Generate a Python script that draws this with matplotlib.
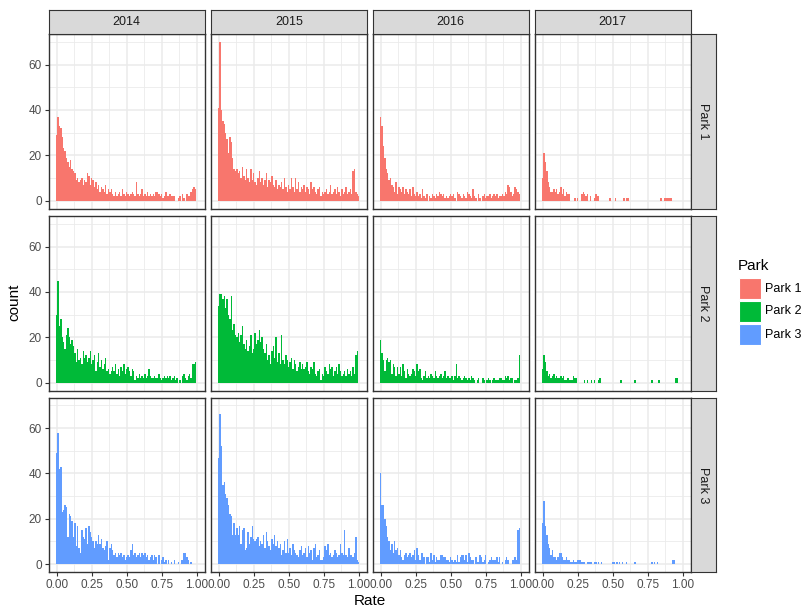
import matplotlib.pyplot as plt
import matplotlib.patches as mpatches
import numpy as np

plt.rcParams['font.family'] = ['Liberation Sans', 'DejaVu Sans']

years = ["2014", "2015", "2016", "2017"]
parks = ["Park 1", "Park 2", "Park 3"]
park_colors = ["#F8766D", "#00BA38", "#619CFF"]

# counts per 0.01-wide bin, bins centred on 0.00, 0.01, ..., 1.00
p1_2014 = [29, 37, 33, 32, 28, 23, 22, 19, 17, 15,
           18, 14, 13, 12, 9, 10, 8, 9, 10, 7,
           9, 8, 12, 11, 7, 10, 9, 6, 8, 5,
           7, 4, 6, 5, 4, 7, 3, 5, 4, 5,
           3, 2, 4, 2, 3, 4, 2, 5, 3, 2,
           4, 3, 2, 3, 4, 3, 2, 8, 3, 2,
           3, 5, 2, 3, 2, 4, 2, 3, 2, 3,
           2, 4, 4, 3, 2, 3, 1, 2, 4, 2,
           2, 3, 2, 2, 2, 0, 0, 1, 2, 0,
           3, 1, 0, 3, 2, 2, 4, 5, 6, 5,
           0]
p1_2015 = [41, 70, 40, 35, 34, 30, 27, 21, 28, 26,
           19, 14, 13, 14, 12, 13, 10, 15, 11, 9,
           14, 10, 8, 14, 9, 12, 8, 7, 10, 13,
           8, 10, 7, 9, 12, 6, 9, 8, 11, 7,
           6, 9, 5, 7, 6, 8, 5, 10, 6, 4,
           7, 5, 10, 6, 4, 10, 5, 8, 4, 6,
           5, 7, 4, 6, 5, 3, 8, 5, 6, 4,
           3, 5, 6, 2, 4, 3, 4, 5, 3, 4,
           7, 3, 4, 5, 3, 6, 4, 2, 5, 3,
           4, 6, 3, 4, 5, 3, 13, 14, 4, 3,
           2]
p1_2016 = [37, 33, 24, 19, 14, 12, 9, 10, 7, 6,
           4, 8, 3, 6, 5, 4, 6, 3, 5, 4,
           3, 5, 2, 6, 3, 2, 4, 2, 3, 1,
           5, 2, 1, 3, 0, 2, 1, 3, 2, 1,
           3, 2, 4, 3, 2, 3, 1, 2, 1, 2,
           3, 2, 3, 1, 0, 4, 3, 2, 1, 3,
           2, 1, 4, 3, 2, 1, 5, 2, 1, 0,
           3, 1, 0, 2, 3, 1, 2, 2, 3, 1,
           2, 3, 2, 3, 1, 2, 2, 3, 2, 4,
           3, 7, 6, 4, 2, 3, 6, 5, 4, 3,
           0]
p1_2017 = [10, 21, 17, 13, 8, 6, 4, 4, 5, 4,
           5, 3, 4, 6, 3, 5, 2, 4, 3, 3,
           0, 0, 0, 1, 0, 1, 0, 0, 3, 4,
           3, 2, 3, 0, 2, 0, 0, 1, 3, 2,
           2, 0, 0, 0, 0, 0, 0, 0, 1, 0,
           0, 0, 1, 0, 0, 0, 0, 0, 1, 0,
           1, 1, 0, 0, 0, 0, 0, 0, 0, 0,
           0, 0, 0, 0, 0, 0, 0, 0, 0, 0,
           0, 0, 0, 0, 1, 1, 0, 1, 1, 1,
           1, 1, 1, 0, 0, 0, 0, 0, 0, 0,
           0]
p2_2014 = [30, 45, 25, 28, 20, 18, 15, 21, 24, 20,
           17, 19, 16, 13, 9, 15, 10, 11, 8, 14,
           11, 12, 9, 11, 14, 8, 10, 12, 5, 9,
           13, 7, 10, 6, 8, 11, 5, 6, 4, 5,
           7, 5, 8, 4, 6, 3, 7, 5, 8, 4,
           6, 7, 5, 3, 6, 5, 1, 3, 2, 4,
           2, 3, 2, 4, 2, 3, 6, 3, 2, 2,
           3, 2, 2, 4, 2, 1, 2, 3, 2, 3,
           2, 3, 1, 2, 3, 1, 2, 0, 1, 0,
           3, 4, 2, 1, 3, 4, 2, 8, 8, 9,
           0]
p2_2015 = [34, 39, 39, 37, 38, 33, 37, 30, 28, 38,
           23, 26, 21, 20, 22, 18, 21, 25, 17, 15,
           19, 14, 16, 21, 13, 15, 22, 17, 19, 23,
           18, 20, 15, 13, 17, 10, 12, 8, 14, 16,
           11, 20, 9, 13, 8, 21, 10, 8, 12, 10,
           7, 9, 11, 6, 10, 8, 5, 7, 9, 6,
           8, 6, 7, 9, 5, 4, 7, 6, 9, 4,
           3, 5, 6, 1, 4, 3, 7, 5, 4, 8,
           6, 7, 3, 5, 7, 4, 8, 5, 3, 4,
           5, 3, 6, 4, 5, 3, 7, 4, 12, 14,
           0]
p2_2016 = [19, 13, 10, 5, 10, 11, 9, 10, 4, 8,
           7, 3, 7, 4, 7, 3, 8, 5, 2, 6,
           4, 3, 4, 6, 5, 3, 8, 5, 6, 2,
           1, 3, 5, 2, 3, 2, 4, 3, 2, 5,
           3, 2, 3, 4, 2, 3, 5, 2, 3, 2,
           2, 3, 1, 3, 8, 2, 3, 2, 1, 2,
           3, 2, 1, 2, 1, 3, 2, 1, 0, 1,
           2, 0, 0, 2, 1, 0, 1, 2, 1, 0,
           1, 2, 1, 1, 1, 2, 2, 1, 1, 3,
           2, 3, 1, 2, 2, 0, 1, 1, 2, 12,
           0]
p2_2017 = [6, 12, 9, 5, 3, 4, 2, 3, 4, 2,
           3, 2, 2, 3, 2, 3, 1, 1, 2, 1,
           1, 1, 3, 2, 2, 0, 0, 0, 0, 0,
           1, 0, 1, 0, 0, 1, 0, 1, 0, 0,
           1, 2, 0, 0, 0, 0, 0, 0, 0, 0,
           0, 0, 0, 0, 0, 0, 1, 0, 0, 0,
           0, 0, 0, 0, 0, 0, 1, 0, 0, 0,
           0, 0, 0, 0, 0, 0, 0, 0, 1, 0,
           0, 0, 0, 1, 0, 0, 0, 0, 0, 0,
           0, 0, 0, 0, 0, 2, 2, 0, 0, 0,
           0]
p3_2014 = [49, 58, 42, 43, 23, 24, 26, 25, 12, 22,
           21, 19, 12, 18, 8, 17, 7, 5, 15, 12,
           11, 16, 9, 17, 14, 12, 10, 7, 10, 9,
           13, 9, 11, 7, 6, 8, 10, 2, 7, 9,
           6, 4, 5, 3, 5, 4, 5, 3, 4, 2,
           3, 4, 3, 6, 9, 4, 5, 3, 4, 5,
           3, 5, 4, 5, 3, 4, 2, 3, 4, 2,
           4, 3, 0, 4, 0, 2, 3, 1, 2, 0,
           2, 0, 1, 0, 2, 0, 0, 1, 0, 2,
           2, 5, 5, 3, 2, 0, 1, 0, 0, 0,
           0]
p3_2015 = [47, 66, 52, 35, 36, 31, 29, 26, 22, 21,
           13, 18, 13, 16, 13, 17, 9, 15, 16, 6,
           7, 14, 9, 12, 17, 11, 10, 11, 12, 8,
           10, 9, 13, 7, 14, 10, 8, 6, 11, 9,
           13, 8, 10, 7, 9, 4, 6, 10, 5, 11,
           5, 7, 4, 9, 6, 5, 4, 3, 6, 8,
           4, 5, 7, 3, 8, 5, 6, 2, 7, 9,
           3, 4, 6, 2, 2, 3, 8, 6, 9, 4,
           5, 3, 4, 6, 5, 3, 4, 9, 5, 4,
           15, 4, 3, 7, 4, 4, 3, 5, 12, 2,
           1]
p3_2016 = [40, 26, 26, 20, 17, 12, 10, 6, 9, 5,
           10, 6, 7, 4, 6, 3, 2, 4, 5, 3,
           4, 5, 3, 4, 6, 2, 7, 4, 2, 5,
           5, 3, 0, 3, 3, 1, 5, 2, 4, 1,
           3, 2, 2, 4, 4, 3, 3, 2, 2, 1,
           3, 2, 1, 2, 1, 4, 1, 3, 4, 4,
           2, 4, 1, 5, 3, 2, 2, 0, 3, 1,
           1, 4, 3, 1, 2, 4, 0, 1, 2, 3,
           2, 2, 2, 3, 1, 3, 0, 1, 0, 2,
           3, 2, 0, 0, 2, 2, 3, 2, 15, 16,
           0]
p3_2017 = [18, 28, 17, 13, 9, 7, 4, 6, 3, 3,
           2, 3, 5, 5, 3, 2, 2, 3, 2, 2,
           1, 1, 2, 1, 1, 2, 2, 2, 1, 1,
           1, 0, 1, 1, 1, 1, 0, 1, 1, 0,
           1, 0, 1, 0, 0, 0, 0, 0, 0, 0,
           1, 1, 0, 1, 0, 1, 0, 1, 0, 0,
           1, 0, 0, 0, 0, 0, 1, 0, 0, 0,
           0, 0, 0, 0, 0, 0, 0, 0, 1, 0,
           1, 0, 1, 0, 0, 0, 0, 0, 0, 0,
           0, 0, 0, 2, 2, 0, 0, 0, 0, 0,
           0]

counts = [[p1_2014, p1_2015, p1_2016, p1_2017],
          [p2_2014, p2_2015, p2_2016, p2_2017],
          [p3_2014, p3_2015, p3_2016, p3_2017]]

binwidth = 0.01
edges = np.arange(102) * binwidth - binwidth / 2

W, H = 802, 609
fig = plt.figure(figsize=(W / 100, H / 100), dpi=100)

GREY20 = "#333333"
GREY30 = "#4D4D4D"
STRIP = "#D9D9D9"
GRID = "#EBEBEB"


def px_axes(left, top, width, height, **kw):
    return fig.add_axes([left / W, 1 - (top + height) / H, width / W, height / H], **kw)


col_left = [49, 211, 373, 535]
row_top = [34, 216, 397.5]
pw, ph = 155.5, 174.5

ymax = max(max(c) for row in counts for c in row)
ylim = (-ymax * 0.05, ymax * 1.05)
xlim = (edges[0] - 0.05 * (edges[-1] - edges[0]), edges[-1] + 0.05 * (edges[-1] - edges[0]))

for r in range(3):
    for c in range(4):
        ax = px_axes(col_left[c], row_top[r], pw, ph)
        ax.stairs(counts[r][c], edges, fill=True, color=park_colors[r], lw=0)
        ax.set_xlim(xlim)
        ax.set_ylim(ylim)
        ax.set_xticks([0, 0.25, 0.5, 0.75, 1.0])
        ax.set_xticks([0.125, 0.375, 0.625, 0.875], minor=True)
        ax.set_yticks([0, 20, 40, 60])
        ax.set_yticks([10, 30, 50, 70], minor=True)
        ax.grid(which="major", color=GRID, lw=1.1)
        ax.grid(which="minor", color=GRID, lw=0.6)
        ax.set_axisbelow(True)
        for s in ax.spines.values():
            s.set_color(GREY20)
            s.set_linewidth(1.0)
        ax.tick_params(which="major", length=3, width=0.8, color=GREY20,
                       labelcolor=GREY30, labelsize=8.5, pad=2)
        ax.tick_params(which="minor", length=0)
        if c == 0:
            ax.set_yticklabels(["0", "20", "40", "60"])
        else:
            ax.tick_params(axis="y", which="major", length=0, labelleft=False)
        if r == 2:
            ax.set_xticklabels(["0.00", "0.25", "0.50", "0.75", "1.00"])
        else:
            ax.tick_params(axis="x", which="major", length=0, labelbottom=False)

# facet strips for years (top) and parks (right)
for c in range(4):
    sx = px_axes(col_left[c], 10, pw, 24)
    sx.set_facecolor(STRIP)
    sx.set_xticks([])
    sx.set_yticks([])
    for s in sx.spines.values():
        s.set_color(GREY20)
    sx.text(0.5, 0.5, years[c], ha="center", va="center", fontsize=9,
            color="#1A1A1A", transform=sx.transAxes)

for r in range(3):
    sy = px_axes(690.5, row_top[r], 25, ph)
    sy.set_facecolor(STRIP)
    sy.set_xticks([])
    sy.set_yticks([])
    for s in sy.spines.values():
        s.set_color(GREY20)
    sy.text(0.5, 0.5, parks[r], ha="center", va="center", fontsize=9,
            color="#1A1A1A", rotation=-90, transform=sy.transAxes)

fig.text(370 / W, 1 - 601 / H, "Rate", ha="center", va="center", fontsize=11, color="black")
fig.text(14 / W, 1 - 302 / H, "count", ha="center", va="center", fontsize=11,
         color="black", rotation=90)

# legend
fig.text(738 / W, 1 - 266 / H, "Park", ha="left", va="center", fontsize=11, color="black")
key_tops = [277.5, 300.5, 323.5]
for i, name in enumerate(parks):
    fig.patches.append(mpatches.Rectangle((739 / W, 1 - (key_tops[i] + 21.5) / H), 22 / W, 21.5 / H,
                                          transform=fig.transFigure, facecolor=park_colors[i],
                                          edgecolor="white", lw=0.8))
    fig.text(765 / W, 1 - (key_tops[i] + 11) / H, name, ha="left", va="center",
             fontsize=9, color="black")

fig.savefig("out.png", dpi=100, facecolor="white")
